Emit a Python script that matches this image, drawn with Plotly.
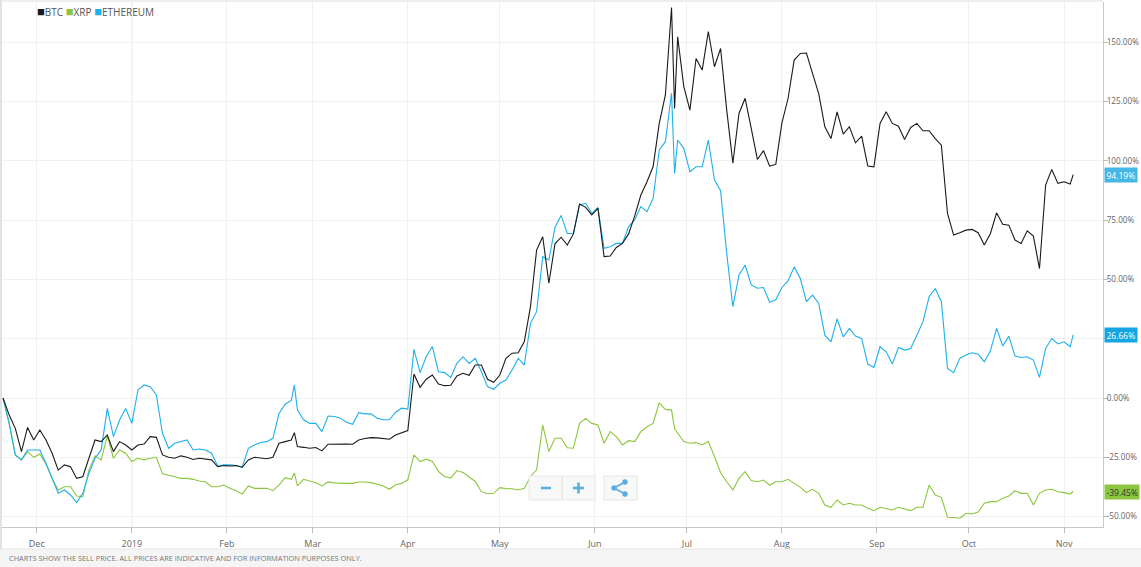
import pandas as pd
import plotly.graph_objects as go

# percent change since 2018-11-20, one reading about every 2 days
start_date = "2018-11-20"
day_offsets = sorted(list(range(0, 349, 2)) + [95, 219, 349])

btc = [
    0, -7.2, -12.8, -22.6, -12.4, -17.7, -13.5, -17.7, -23.3, -30.4,
    -28.2, -29.0, -33.9, -33.2, -25.4, -17.7, -18.4, -15.6, -22.6, -18.4,
    -19.8, -21.9, -19.8, -19.4, -16.3, -16.6, -24.0, -25.0, -25.4, -24.4,
    -25.0, -25.9, -25.4, -25.9, -26.1, -29.0, -28.5, -28.7, -28.5, -29.2,
    -26.1, -25.0, -25.4, -25.6, -25.0, -19.1, -18.4, -17.7, -14.6, -20.5,
    -20.8, -21.2, -20.9, -22.3, -19.5, -19.4, -19.2, -19.4, -19.5, -17.7,
    -17.1, -16.7, -16.8, -17.1, -17.4, -15.6, -14.6, -13.7, 10.1, 4.5,
    7.9, 9.7, 5.9, 5.2, 5.4, 9.3, 10.4, 9.6, 13.9, 13.9,
    7.9, 6.6, 9.7, 16.7, 18.9, 19.1, 23.8, 38.5, 62.4, 68.0,
    48.4, 65.0, 67.8, 64.5, 69.2, 81.8, 80.4, 77.2, 80.0, 59.6,
    59.9, 63.5, 65.2, 69.2, 76.8, 85.6, 91.2, 97.6, 115.8, 127.8,
    164.7, 122.1, 152.3, 131.3, 121.4, 143.2, 138.3, 154.5, 139.7, 147.4,
    121.4, 99.0, 120.0, 126.4, 113.7, 100.6, 104.3, 97.8, 98.5, 116.0,
    126.3, 142.5, 145.3, 145.5, 136.8, 128.4, 114.4, 109.4, 120.7, 111.3,
    114.4, 107.6, 110.4, 97.8, 97.5, 115.8, 120.7, 115.8, 114.6, 109.0,
    114.1, 115.8, 112.7, 112.7, 109.4, 106.6, 77.8, 68.7, 69.7, 70.8,
    71.1, 69.7, 64.5, 69.4, 78.1, 73.3, 72.9, 66.6, 65.2, 70.5,
    68.3, 54.6, 89.8, 96.4, 90.5, 91.2, 90.2, 94.19,
]

eth = [
    0, -10.7, -24.0, -26.1, -21.9, -21.9, -21.9, -27.5, -33.9, -40.2,
    -38.8, -40.9, -44.1, -40.2, -31.8, -25.4, -21.9, -4.4, -16.3, -9.3,
    -4.4, -10.7, 3.4, 5.5, 4.8, 1.3, -14.9, -21.2, -19.1, -18.4,
    -17.7, -21.9, -21.5, -21.9, -23.3, -28.7, -28.2, -28.2, -28.5, -29.2,
    -21.2, -19.8, -18.8, -18.4, -17.0, -6.5, -2.6, -1.0, 5.5, -5.0,
    -9.2, -10.7, -10.7, -14.2, -7.6, -7.8, -8.5, -10.2, -11.1, -6.2,
    -6.7, -6.7, -8.5, -9.2, -9.2, -6.0, -4.3, -4.7, 20.5, 10.7,
    17.4, 21.7, 11.1, 10.7, 8.7, 14.6, 17.4, 14.6, 16.7, 11.1,
    4.8, 3.7, 6.2, 7.6, 11.8, 16.7, 13.9, 31.5, 36.4, 59.6,
    58.2, 72.0, 77.0, 69.4, 69.4, 81.4, 82.1, 77.9, 80.4, 63.1,
    63.8, 65.2, 65.2, 72.3, 75.1, 80.7, 78.6, 84.2, 104.6, 108.1,
    128.5, 94.7, 108.8, 105.3, 95.4, 97.5, 97.5, 108.8, 91.9, 87.4,
    61.0, 38.5, 51.9, 56.1, 47.7, 46.3, 46.6, 40.4, 41.4, 46.6,
    49.4, 55.3, 50.4, 40.6, 43.4, 39.9, 26.5, 23.7, 33.4, 25.8,
    29.3, 26.1, 25.1, 14.3, 12.9, 21.6, 19.5, 14.3, 21.3, 20.2,
    20.9, 26.5, 32.2, 42.7, 46.2, 40.6, 12.5, 10.7, 16.7, 18.1,
    19.1, 18.5, 15.3, 19.9, 29.4, 21.9, 26.1, 17.7, 17.1, 17.4,
    16.0, 8.7, 20.9, 25.1, 22.8, 23.7, 21.6, 26.66,
]

xrp = [
    0, -10.7, -24.0, -26.1, -22.6, -25.0, -23.6, -27.8, -33.9, -38.8,
    -37.4, -37.4, -41.3, -41.6, -30.4, -24.4, -26.1, -16.0, -25.4, -21.9,
    -23.3, -26.8, -25.4, -26.1, -25.4, -25.0, -32.0, -32.5, -33.2, -33.9,
    -33.9, -34.3, -35.0, -35.3, -37.4, -37.4, -36.7, -38.1, -39.1, -40.5,
    -37.1, -38.1, -38.1, -38.1, -39.1, -36.7, -33.6, -34.3, -31.6, -37.1,
    -34.3, -35.0, -35.7, -37.1, -35.4, -35.8, -36.0, -36.0, -36.0, -35.4,
    -35.4, -35.7, -36.4, -37.1, -38.5, -36.6, -36.0, -34.5, -24.0, -26.8,
    -25.8, -26.8, -31.0, -33.1, -33.8, -30.6, -31.4, -33.3, -35.2, -39.5,
    -40.4, -40.2, -37.8, -38.2, -38.3, -38.8, -38.1, -33.1, -30.3, -11.4,
    -22.6, -17.0, -17.0, -21.0, -21.2, -10.7, -8.6, -10.7, -11.4, -19.1,
    -14.2, -16.3, -19.8, -18.0, -18.4, -14.2, -12.1, -10.7, -2.0, -4.8,
    -5.1, -13.0, -14.9, -18.4, -19.1, -18.8, -19.8, -18.4, -24.7, -31.5,
    -35.3, -38.8, -33.9, -31.1, -34.8, -35.3, -34.6, -36.8, -35.3, -35.3,
    -34.3, -36.0, -37.7, -39.9, -38.5, -40.2, -45.1, -46.1, -43.0, -45.1,
    -44.4, -45.1, -45.1, -46.5, -47.5, -46.1, -46.5, -47.2, -46.1, -46.9,
    -47.5, -46.1, -46.1, -36.7, -40.9, -41.9, -50.3, -50.4, -50.7, -48.6,
    -48.9, -48.1, -44.4, -43.7, -43.7, -42.3, -41.3, -39.1, -40.2, -40.2,
    -45.1, -40.2, -38.8, -38.5, -39.5, -39.9, -40.5, -39.45,
]

month_ticks = ["2018-12-01", "2019-01-01", "2019-02-01", "2019-03-01",
               "2019-04-01", "2019-05-01", "2019-06-01", "2019-07-01",
               "2019-08-01", "2019-09-01", "2019-10-01", "2019-11-01"]
month_labels = ["Dec", "2019", "Feb", "Mar", "Apr", "May", "Jun", "Jul",
                "Aug", "Sep", "Oct", "Nov"]
y_ticks = [-50, -25, 0, 25, 50, 75, 100, 125, 150]
y_labels = ["-50.00%", "-25.00%", "0.00%", "25.00%", "50.00%", "75.00%",
            "100.00%", "125.00%", "150.00%"]

assert len(btc) == len(eth) == len(xrp) == len(day_offsets)

dates = pd.Timestamp(start_date) + pd.to_timedelta(day_offsets, unit="D")

W, H = 1141, 567
L, R, T, B = 1, 38, 2, 40
pw, ph = W - L - R, H - T - B


def px(x):
    return (x - L) / pw


def py(y):
    return (H - B - y) / ph


BLACK, GREEN, BLUE = "#1a1a1a", "#8cc63f", "#1eb0ea"

fig = go.Figure()
fig.add_trace(go.Scatter(x=dates, y=xrp, mode="lines", name="XRP",
                         line=dict(color=GREEN, width=1.1)))
fig.add_trace(go.Scatter(x=dates, y=eth, mode="lines", name="ETHEREUM",
                         line=dict(color=BLUE, width=1.1)))
fig.add_trace(go.Scatter(x=dates, y=btc, mode="lines", name="BTC",
                         line=dict(color=BLACK, width=1.1)))


def pline(x0, y0, x1, y1, color, width=1):
    return dict(type="line", xref="paper", yref="paper", x0=px(x0), x1=px(x1),
                y0=py(y0), y1=py(y1), line=dict(color=color, width=width))


def prect(x0, y0, x1, y1, fill, edge=None):
    return dict(type="rect", xref="paper", yref="paper", x0=px(x0), x1=px(x1),
                y0=py(y1), y1=py(y0), fillcolor=fill,
                line=dict(color=edge or fill, width=1 if edge else 0))


shapes = [
    # footer band
    prect(0, 549, W, H, "#f5f5f5"),
    pline(0, 549, W, 549, "#e6e6e6"),
    # frame
    pline(0, 1, 1103, 1, "#dcdcdc"),
    pline(1, 0, 1, 549, "#e2e2e2", 2),
    # year boundary
    dict(type="line", xref="x", yref="paper", x0="2019-01-01", x1="2019-01-01",
         y0=0, y1=1, line=dict(color="#e4e4e4", width=1), layer="below"),
    # zoom / share buttons
    prect(529, 476, 595, 500, "#f8f8f8", "#e6e6e6"),
    pline(562, 477, 562, 499, "#dedede"),
    prect(604, 476, 637, 500, "#f8f8f8", "#e6e6e6"),
]
shapes[0]["layer"] = "below"
icon = "#5aaee0"
shapes += [
    pline(541, 488, 551, 488, icon, 2.6),
    pline(573, 488, 584, 488, icon, 2.6),
    pline(578.5, 482.5, 578.5, 493.5, icon, 2.6),
]
for cx, cy in [(614, 488), (625, 482), (625, 494)]:
    shapes.append(dict(type="circle", xref="paper", yref="paper",
                       x0=px(cx - 2.7), x1=px(cx + 2.7), y0=py(cy + 2.7), y1=py(cy - 2.7),
                       fillcolor=icon, line=dict(width=0)))
shapes += [pline(614, 488, 625, 482, icon, 1.8), pline(614, 488, 625, 494, icon, 1.8)]

sq = "font-size:13px"
annotations = [
    dict(xref="paper", yref="paper", x=px(35), y=py(11), xanchor="left", yanchor="middle",
         showarrow=False, font=dict(size=10, color="#555"),
         text=f'<span style="color:{BLACK};{sq}">■</span>BTC '
              f'<span style="color:{GREEN};{sq}">■</span>XRP '
              f'<span style="color:{BLUE};{sq}">■</span>ETHEREUM'),
    dict(xref="paper", yref="paper", x=px(7), y=py(558), xanchor="left", yanchor="middle",
         showarrow=False, font=dict(size=7.4, color="#777"),
         text="CHARTS SHOW THE SELL PRICE. ALL PRICES ARE INDICATIVE AND FOR INFORMATION PURPOSES ONLY."),
]
for val, bg, fg in [(btc[-1], "#45b6e6", "white"), (eth[-1], "#14a6e2", "white"),
                    (xrp[-1], GREEN, "#333")]:
    annotations.append(dict(xref="paper", yref="y", x=px(1104), y=val,
                            xanchor="left", yanchor="middle", showarrow=False,
                            text=f"{val:.2f}%", bgcolor=bg, borderpad=1.5,
                            font=dict(size=8.5, color=fg)))

fig.update_layout(
    width=W, height=H,
    margin=dict(l=L, r=R, t=T, b=B),
    paper_bgcolor="white", plot_bgcolor="white",
    font=dict(family="Open Sans, sans-serif", size=9, color="#666"),
    showlegend=False,
    shapes=shapes,
    annotations=annotations,
    xaxis=dict(
        range=["2018-11-19 08:00", "2019-11-13 17:00"],
        tickvals=month_ticks, ticktext=month_labels,
        showgrid=True, gridcolor="#f1f1f1",
        ticks="outside", ticklen=5, tickcolor="#bbb",
        ticklabelstandoff=3,
        showline=True, linecolor="#c8c8c8", linewidth=1,
        tickfont=dict(size=9, color="#666"),
    ),
    yaxis=dict(
        range=[-54.4, 167.0], side="right",
        tickvals=y_ticks, ticktext=y_labels,
        showgrid=True, gridcolor="#f1f1f1", zeroline=False,
        ticks="outside", ticklen=4, tickcolor="#bbb",
        ticklabelstandoff=-3,
        showline=True, linecolor="#c8c8c8", linewidth=1,
        tickfont=dict(size=8.2, color="#666"),
    ),
)

fig.write_html("out.html", config={"displayModeBar": False},
               post_script="document.body.style.margin='0';")
